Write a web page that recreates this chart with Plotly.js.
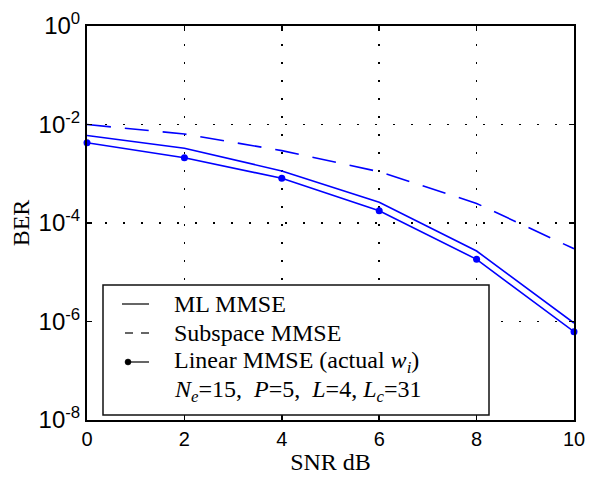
<!DOCTYPE html>
<html>
<head>
<meta charset="utf-8">
<script src="https://cdn.plot.ly/plotly-3.0.1.min.js"></script>
<style>html,body{margin:0;padding:0;background:#fff;}#chart{width:594px;height:480px;}</style>
</head>
<body>
<div id="chart"></div>
<script>
// ---- data ----
const snr = [0, 2, 4, 6, 8, 10];
const mlMMSE = [6.0e-3, 3.3e-3, 1.14e-3, 2.63e-4, 2.7e-5, 9.3e-7];
const subspaceMMSE = [1.0e-2, 6.4e-3, 2.95e-3, 1.1e-3, 2.5e-4, 3.0e-5];
const linearMMSE = [4.27e-3, 2.12e-3, 8.1e-4, 1.78e-4, 1.83e-5, 6.2e-7];
const xTicks = [0, 2, 4, 6, 8, 10];
const yTickVals = [1, 1e-2, 1e-4, 1e-6, 1e-8];
const yTickText = ['10<sup>0</sup>', '10<sup>-2</sup>', '10<sup>-4</sup>', '10<sup>-6</sup>', '10<sup>-8</sup>'];
const legendLabels = ['ML MMSE', 'Subspace MMSE', 'Linear MMSE (actual <i>w</i><sub><i>i</i></sub>)',
  '<i>N</i><sub><i>e</i></sub>=15,  <i>P</i>=5,  <i>L</i>=4, <i>L</i><sub><i>c</i></sub>=31'];

// ---- layout helpers (pixel -> paper) ----
const L = 87, R = 574, T = 26, B = 420;
const px = v => (v - L) / (R - L);
const py = v => (B - v) / (B - T);

const blue = '#0000ff';
const traces = [
  {x: snr, y: mlMMSE, mode: 'lines', line: {color: blue, width: 1.6}, showlegend: false},
  {x: snr, y: subspaceMMSE, mode: 'lines', line: {color: blue, width: 1.6, dash: '24px,14px'}, showlegend: false},
  {x: snr, y: linearMMSE, mode: 'lines+markers', line: {color: blue, width: 1.6},
   marker: {color: blue, size: 7}, showlegend: false, cliponaxis: false}
];

const serif = 'Liberation Serif, Times New Roman, serif';
const sans = 'Liberation Sans, Arial, sans-serif';

const rows = [304, 333, 362, 391];
const shapes = [
  {type: 'rect', xref: 'paper', yref: 'paper', x0: px(103), x1: px(489), y0: py(415), y1: py(285),
   fillcolor: '#fff', line: {color: '#111', width: 1.5}, layer: 'above'},
  {type: 'line', xref: 'paper', yref: 'paper', x0: px(122), x1: px(149), y0: py(rows[0]), y1: py(rows[0]),
   line: {color: '#000', width: 1.2}, layer: 'above'},
  {type: 'line', xref: 'paper', yref: 'paper', x0: px(125), x1: px(133), y0: py(rows[1]), y1: py(rows[1]),
   line: {color: '#000', width: 1.2}, layer: 'above'},
  {type: 'line', xref: 'paper', yref: 'paper', x0: px(141), x1: px(149), y0: py(rows[1]), y1: py(rows[1]),
   line: {color: '#000', width: 1.2}, layer: 'above'},
  {type: 'line', xref: 'paper', yref: 'paper', x0: px(128), x1: px(149), y0: py(rows[2]), y1: py(rows[2]),
   line: {color: '#000', width: 1.2}, layer: 'above'},
  {type: 'circle', xref: 'paper', yref: 'paper', x0: px(125), x1: px(131), y0: py(rows[2] + 3), y1: py(rows[2] - 3),
   fillcolor: '#000', line: {color: '#000', width: 0.5}, layer: 'above'}
];

const annotations = legendLabels.map((t, i) => ({
  text: t, xref: 'paper', yref: 'paper', x: px(172), y: py(rows[i]),
  xanchor: 'left', yanchor: 'middle', showarrow: false,
  font: {family: serif, size: 24, color: '#000'}
}));

const layout = {
  width: 594, height: 480,
  margin: {l: L, r: 594 - R, t: T, b: 480 - B},
  paper_bgcolor: '#fff', plot_bgcolor: '#fff',
  showlegend: false,
  xaxis: {
    range: [0, 10], tickvals: xTicks, ticktext: xTicks.map(String),
    ticks: 'inside', ticklen: 5, tickwidth: 1.5, tickcolor: '#000',
    showline: true, linecolor: '#000', linewidth: 2, mirror: 'ticks',
    showgrid: true, gridcolor: '#000', gridwidth: 1.5, griddash: '2px,16px',
    zeroline: false,
    tickfont: {family: sans, size: 20, color: '#000'},
    title: {text: 'SNR dB', font: {family: serif, size: 24, color: '#000'}, standoff: 4}
  },
  yaxis: {
    type: 'log', range: [-8, 0], tickvals: yTickVals, ticktext: yTickText,
    ticks: 'inside', ticklen: 5, tickwidth: 1.5, tickcolor: '#000',
    showline: true, linecolor: '#000', linewidth: 2, mirror: 'ticks',
    showgrid: true, gridcolor: '#000', gridwidth: 1.5, griddash: '2px,16px',
    zeroline: false,
    tickfont: {family: sans, size: 24, color: '#000'},
    title: {text: 'BER', font: {family: serif, size: 24, color: '#000'}, standoff: 2}
  },
  shapes: shapes,
  annotations: annotations
};

Plotly.newPlot('chart', traces, layout, {displayModeBar: false, staticPlot: true});
</script>
</body>
</html>
